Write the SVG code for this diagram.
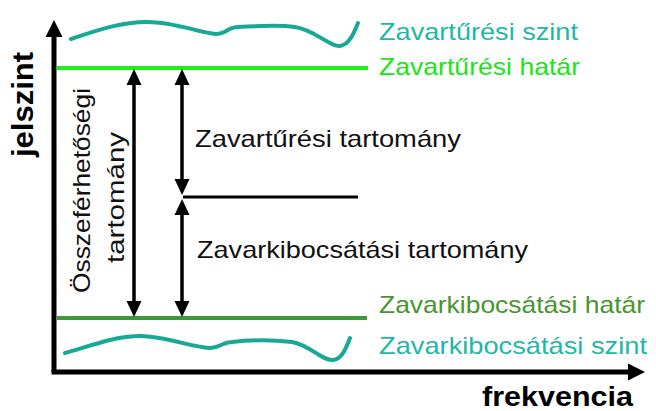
<svg xmlns="http://www.w3.org/2000/svg" width="656" height="411" viewBox="0 0 656 411">
  <style>
    text { font-family: "Liberation Sans", Arial, sans-serif; }
    .lbl { font-size: 24px; }
    .bold { font-weight: bold; fill: #000; }
    .teal { fill: #1fb7a6; }
    .lime { fill: #19e619; }
    .dgreen { fill: #46962e; }
    .dark { fill: #111; }
    .wave { fill: none; stroke: #18a898; stroke-width: 4; stroke-linecap: round; stroke-linejoin: round; }
    .dim { stroke: #000; stroke-width: 3.5; fill: none; }
    .axis { stroke: #000; stroke-width: 5; fill: none; }
  </style>
  <defs>
    <marker id="ah" markerUnits="userSpaceOnUse" markerWidth="20" markerHeight="20" viewBox="0 -10 20 20" refX="0" refY="0" orient="auto-start-reverse">
      <path d="M0,-7.5 L16,0 L0,7.5 Z" fill="#000"/>
    </marker>
    <marker id="axh" markerUnits="userSpaceOnUse" markerWidth="22" markerHeight="22" viewBox="0 -11 22 22" refX="0" refY="0" orient="auto">
      <path d="M0,-8.5 L17,0 L0,8.5 Z" fill="#000"/>
    </marker>
  </defs>

  <g id="axes">
    <path class="axis" d="M54,372 L54,37" marker-end="url(#axh)"/>
    <path class="axis" d="M51.5,372 L628,372" marker-end="url(#axh)"/>
    <text class="bold" transform="translate(33,157) rotate(-90)" font-size="30" textLength="105" lengthAdjust="spacingAndGlyphs">jelszint</text>
    <text class="bold" x="482" y="406" font-size="28" textLength="151" lengthAdjust="spacingAndGlyphs">frekvencia</text>
  </g>

  <g id="zavarturesi-szint">
    <path class="wave" d="M71,39 C95,31 120,22 147,22 C175,22 200,33 216,34 C226,34 228,27 238,27 C255,26 280,25 295,27 C315,30 330,47 340,46 C350,45 355,30 358,23"/>
    <text class="lbl teal" x="379" y="40" textLength="199" lengthAdjust="spacingAndGlyphs">Zavartűrési szint</text>
  </g>

  <g id="zavarturesi-hatar">
    <line x1="57" y1="68" x2="368" y2="68" stroke="#22ee22" stroke-width="4"/>
    <text class="lbl lime" x="379" y="75" textLength="201" lengthAdjust="spacingAndGlyphs">Zavartűrési határ</text>
  </g>

  <g id="zavarkibocsatasi-hatar">
    <line x1="57" y1="318" x2="367" y2="318" stroke="#3d9a3a" stroke-width="4"/>
    <text class="lbl dgreen" x="379" y="313" textLength="266" lengthAdjust="spacingAndGlyphs">Zavarkibocsátási határ</text>
  </g>

  <g id="zavarkibocsatasi-szint">
    <path class="wave" d="M65,353 C90,346 115,336 140,336 C165,336 190,347 210,348 C220,348 222,342 232,342 C250,340 275,340 292,342 C310,345 322,361 333,360 C343,359 347,345 350,338"/>
    <text class="lbl teal" x="379" y="354" textLength="268" lengthAdjust="spacingAndGlyphs">Zavarkibocsátási szint</text>
  </g>

  <g id="mid-line">
    <line x1="183" y1="197" x2="358" y2="197" stroke="#000" stroke-width="3"/>
  </g>

  <g id="osszeferhetosegi">
    <text class="lbl dark" transform="translate(90,293) rotate(-90)" textLength="205" lengthAdjust="spacingAndGlyphs">Összeférhetőségi</text>
    <text class="lbl dark" transform="translate(124,263) rotate(-90)" textLength="131" lengthAdjust="spacingAndGlyphs">tartomány</text>
  </g>

  <g id="zavarturesi-tartomany">
    <text class="lbl dark" x="195" y="147" textLength="266" lengthAdjust="spacingAndGlyphs">Zavartűrési tartomány</text>
  </g>

  <g id="zavarkibocsatasi-tartomany">
    <text class="lbl dark" x="197" y="258" textLength="331" lengthAdjust="spacingAndGlyphs">Zavarkibocsátási tartomány</text>
  </g>

  <g id="connectors">
    <path class="dim" d="M134,85 L134,301" marker-start="url(#ah)" marker-end="url(#ah)"/>
    <path class="dim" d="M182,85 L182,179" marker-start="url(#ah)" marker-end="url(#ah)"/>
    <path class="dim" d="M182,215 L182,301" marker-start="url(#ah)" marker-end="url(#ah)"/>
  </g>
</svg>
